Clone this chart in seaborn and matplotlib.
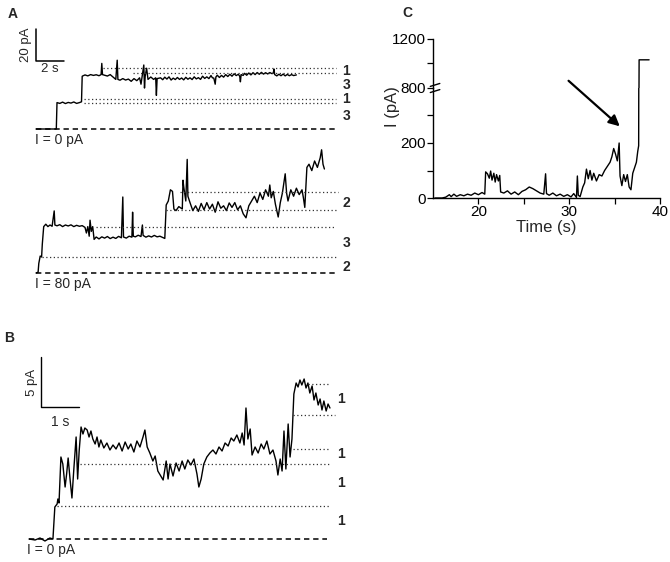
import matplotlib
matplotlib.use('Agg')
import matplotlib.pyplot as plt
import seaborn as sns
import pandas as pd

# ---- data: trace A, I = 0 pA (time s, current pA)
a1_t = [0, 1.45, 1.5, 1.7, 1.9, 2.1, 2.3, 2.5, 2.7, 2.9, 3.1, 3.25, 3.3, 3.5, 3.7, 3.9, 4.1, 4.3,
        4.5, 4.65, 4.7, 4.75, 4.9, 5.1, 5.3, 5.5, 5.7, 5.8, 5.85, 6.0, 6.2, 6.4, 6.6, 6.8, 7.0,
        7.2, 7.4, 7.5, 7.6, 7.7, 7.75, 7.8, 7.9, 8.0, 8.2, 8.4, 8.55, 8.6, 8.65,
        8.9, 9.05, 9.2, 9.35, 9.5, 9.65, 9.8, 9.95, 10.1, 10.25, 10.4, 10.55, 10.7, 10.85, 11.0,
        11.15, 11.3, 11.45, 11.6, 11.75, 11.9, 12.05, 12.2, 12.35, 12.5, 12.6, 12.7, 12.8, 12.85,
        12.95, 13.1, 13.25, 13.4, 13.55, 13.7, 13.85, 14.0, 14.15, 14.3, 14.45, 14.55, 14.6, 14.65,
        14.8, 14.9, 15.05, 15.2, 15.35, 15.5, 15.65, 15.8, 15.95, 16.1, 16.25, 16.4, 16.55, 16.7,
        16.85, 16.95, 17.0, 17.05, 17.2, 17.35, 17.5, 17.65, 17.8, 17.95, 18.1, 18.25, 18.4, 18.6]
a1_i = [0, 0, 16.5, 16, 16.8, 15.9, 16.6, 16.2, 16.9, 16, 16.5, 17, 33, 33.8, 33.2, 34, 33.5, 33.9,
        33.3, 34, 41, 34, 33.6, 33.1, 34, 32.5, 31, 43, 31, 30.5, 31.5, 30.6, 31.2, 29.8, 31.5,
        30.2, 32, 28, 34, 40, 25.6, 33, 38, 31, 32.5, 31, 32, 21, 31.5,
        32, 30.8, 32.4, 31.2, 32.6, 30.6, 31.8, 30.9, 32.2, 31, 31.9, 30.7, 32.3, 31.1, 32,
        30.9, 32.6, 31.3, 32.1, 31, 33, 31.6, 32.6, 31.5, 33.4, 32, 31.8, 28, 32.5,
        33.6, 32.2, 33.5, 32.4, 34, 32.8, 34.2, 33, 34.5, 33.4, 34.2, 33, 29.5, 34,
        33.5, 34.8, 33.6, 35, 33.8, 35.2, 34, 35.3, 34.2, 35.4, 34.3, 35.2, 34.4, 35.3,
        34.6, 35, 37.5, 34, 33.2, 34.2, 33.3, 34.3, 33.2, 34.1, 33.3, 34, 33.4, 33.8]

# trace A, I = 80 pA (relative to its own baseline)
a2_t = [0, 0.15, 0.2, 0.3, 0.4, 0.45, 0.55, 0.7, 0.85, 1.0, 1.15, 1.3, 1.35, 1.5, 1.7, 1.9, 2.1,
        2.3, 2.5, 2.7, 2.9, 3.1, 3.3, 3.5, 3.6, 3.7, 3.8, 3.86, 3.95, 4.05, 4.15, 4.3, 4.5, 4.7,
        4.9, 5.1, 5.3, 5.5, 5.7, 5.9, 6.1, 6.2, 6.25, 6.45, 6.65, 6.85, 6.9, 6.95, 7.1, 7.3, 7.5,
        7.6, 7.65, 7.85, 8.05, 8.25, 8.45, 8.65, 8.85, 9.05, 9.2, 9.3, 9.45, 9.6, 9.75, 9.85, 10.0,
        10.2, 10.45, 10.5, 10.55, 10.7, 10.8, 10.85, 11.0, 11.2, 11.4, 11.6, 11.8, 12.0, 12.2,
        12.4, 12.6, 12.8, 13.0, 13.2, 13.4, 13.6, 13.8, 14.0, 14.2, 14.4, 14.6, 14.8, 15.0, 15.2,
        15.4, 15.6, 15.8, 16.0, 16.2, 16.4, 16.6, 16.7, 16.8, 16.95, 17.1, 17.3, 17.45, 17.6,
        17.8, 17.9, 18.0, 18.2, 18.4, 18.6, 18.8, 19.0, 19.1, 19.2, 19.35, 19.5, 19.7, 19.9,
        20.1, 20.3, 20.4, 20.5, 20.6]
a2_i = [0, 0.5, 6, 10.6, 10, 18, 29, 30.5, 29, 30, 29.2, 38.8, 30, 29.5, 30.2, 29, 30,
        29.4, 30.1, 29, 29.8, 29.2, 29.6, 28.5, 25, 29, 23, 33, 26, 29, 21, 22.5, 21.3, 22.6,
        21.8, 22.8, 21.5, 22.4, 21.6, 22.9, 22, 47.5, 22.5, 21.8, 23, 22.4, 38, 23, 22.6, 23.6, 22.8,
        30, 23.5, 22.4, 23.2, 22.5, 23.5, 22.6, 23, 22.2, 21.6, 42.5, 45, 52, 51, 40, 39,
        41.5, 40, 58, 54, 45, 71, 48, 44, 39, 42, 38.5, 43.5, 39.5, 44,
        40, 43, 38, 44.5, 40.5, 42, 39, 43.8, 41, 44, 39.5, 42, 37, 34.5, 42,
        45, 48, 44, 50, 46, 52, 48, 55, 47, 51, 43, 35, 44, 50,
        62, 50, 45, 52, 48, 53, 49, 52, 47, 41, 66, 68, 64, 70,
        66, 72, 77, 68, 65]
a2_offset = -90

# trace B, I = 0 pA
b_t = [0, 0.16, 0.29, 0.42, 0.55, 0.63, 0.68, 0.74, 0.76, 0.79, 0.84, 0.89, 0.95, 0.99, 1.03,
       1.08, 1.13, 1.18, 1.24, 1.28, 1.32, 1.37, 1.42, 1.47, 1.53, 1.58, 1.63, 1.68, 1.74, 1.79,
       1.84, 1.89, 1.97, 2.05, 2.13, 2.21, 2.29, 2.37, 2.45, 2.53, 2.61, 2.68, 2.76, 2.84, 2.92,
       3.0, 3.05, 3.11, 3.18, 3.26, 3.32, 3.39, 3.53, 3.61, 3.66, 3.71, 3.79, 3.87, 3.95, 4.03,
       4.1, 4.18, 4.26, 4.34, 4.42, 4.47, 4.53, 4.6, 4.68, 4.76, 4.84, 4.92, 5.0, 5.08, 5.16,
       5.24, 5.32, 5.39, 5.47, 5.55, 5.61, 5.66, 5.71, 5.76, 5.82, 5.87, 5.95, 6.03, 6.11, 6.18,
       6.26, 6.34, 6.42, 6.5, 6.55, 6.61, 6.66, 6.71, 6.76, 6.82, 6.87, 6.92, 6.97, 7.03, 7.08,
       7.13, 7.18, 7.24, 7.29, 7.34, 7.39, 7.45, 7.5, 7.55, 7.61, 7.66, 7.71, 7.76, 7.82, 7.87,
       7.92]
b_i = [0, -0.1, 0.1, -0.2, 0.1, 0, 3.2, 3.5, 4, 3.6, 8.2, 7.5, 5.2, 6.5, 8.1,
       6, 4.1, 7, 10.2, 6, 8.8, 11.2, 10.5, 11.1, 10.9, 10.2, 10.8, 10.0, 9.5, 10.2,
       9.2, 9.9, 9.1, 9.6, 8.9, 9.4, 9.0, 9.6, 8.8, 9.7, 9.0, 9.5, 8.7, 9.8, 9.2,
       10.2, 10.9, 9.2, 8.6, 7.8, 8.3, 6.8, 5.9, 7.8, 6.0, 7.5, 6.3, 7.6, 6.8, 7.8,
       7.0, 7.9, 7.4, 8.0, 6.5, 5.2, 6.0, 7.5, 8.2, 8.6, 8.9, 8.5, 9.2, 8.8, 9.6,
       9.3, 10.1, 9.8, 10.4, 9.6, 10.6, 9.4, 13.1, 10.0, 11.0, 8.4, 9.2, 8.6, 9.5, 9.0,
       9.8, 8.5, 8.9, 7.8, 6.4, 8.0, 6.8, 10.8, 7.0, 11.5, 8.2, 10.0, 14.5, 15.6, 15.2,
       15.9, 15.4, 16.0, 15.1, 15.6, 14.6, 15.3, 13.9, 14.6, 13.4, 14.0, 12.9, 13.8, 12.8, 13.5,
       13.1]

# trace C
c_t = [15.2, 16.0, 16.4, 16.8, 17.0, 17.3, 17.6, 18.0, 18.4, 18.8, 19.2, 19.6, 20.0, 20.4, 20.7,
       20.8, 21.0, 21.2, 21.35, 21.5, 21.7, 21.85, 22.0, 22.2, 22.35, 22.45, 22.8, 23.2, 23.6,
       24.0, 24.4, 24.8, 25.2, 25.6, 26.0, 26.4, 26.8, 27.2, 27.4, 27.5, 27.8, 28.2, 28.6, 29.0,
       29.4, 29.8, 30.2, 30.5, 30.8, 30.9, 31.0, 31.2, 31.5, 31.7, 31.9, 32.1, 32.3, 32.5, 32.7,
       33.0, 33.3, 33.6, 33.9, 34.2, 34.5, 34.7, 34.9, 35.1, 35.3, 35.5, 35.6, 35.8, 36.0, 36.2,
       36.4, 36.6, 36.8, 37.0, 37.2, 37.4, 37.55, 37.65, 37.7, 38.8]
c_i = [0, 0, 3, 12, 5, 14, 6, 12, 8, 14, 10, 18, 12, 20, 14,
       95, 88, 72, 98, 65, 90, 58, 85, 62, 82, 22, 18, 26, 14,
       22, 12, 24, 30, 40, 34, 26, 18, 14, 88, 16, 10, 18, 8, 14,
       6, 12, 4, 16, 2, 80, 10, 5, 40, 55, 105, 70, 100, 65, 90,
       62, 85, 80, 100, 115, 130, 150, 180, 160, 135, 200, 80, 45, 85, 60,
       85, 40, 30, 90, 110, 130, 170, 190, 1030, 1030]

# dotted level lines: (level pA, t start, t end)
a1_levels = [(16.3, 3.4, 21.4), (18.8, 3.4, 21.4), (35.0, 6.9, 21.4), (38.0, 4.8, 21.4)]
a1_labels = [('1', 36.5), ('3', 27.5), ('1', 18.8), ('3', 8.1)]
a2_levels = [(10.0, 0.4, 21.4), (28.7, 4.3, 21.4), (39.4, 9.3, 21.6), (50.6, 10.3, 21.6)]
a2_labels = [('2', 44.0), ('3', 18.8), ('2', 3.8)]
b_levels = [(3.3, 0.74, 7.92), (7.5, 1.34, 7.92), (9.0, 6.95, 7.92), (12.4, 6.95, 8.05), (15.5, 7.34, 7.92)]
b_labels = [('1', 1.8), ('1', 5.6), ('1', 8.5), ('1', 14.0)]

W, H = 670, 562
sns.set_theme(style='white')
plt.rcParams['font.family'] = ['Liberation Sans', 'DejaVu Sans']
fig = plt.figure(figsize=(W / 100, H / 100), dpi=100)


def px_axes(left, top, right, bottom):
    return fig.add_axes([left / W, 1 - bottom / H, (right - left) / W, (bottom - top) / H])


def trace(ax, t, i, lw=1.0):
    df = pd.DataFrame({'t': t, 'i': i})
    sns.lineplot(data=df, x='t', y='i', ax=ax, color='black', lw=lw,
                 estimator=None, sort=False, legend=False)


def levels(ax, lv, off=0):
    for y, t0, t1 in lv:
        ax.plot([t0, t1], [y + off, y + off], color='#333333', lw=0.9, ls=(0, (1, 2)))


# ---------------- panel A ----------------
axA = px_axes(0, 20, 360, 300)
axA.set_xlim(-36 / 14, 324 / 14)
axA.set_ylim(-171 / 1.6, 109 / 1.6)
axA.axis('off')
trace(axA, a1_t, a1_i)
trace(axA, a2_t, [v + a2_offset for v in a2_i])
axA.plot([0, 21.4], [0, 0], color='black', lw=1.1, ls=(0, (3.5, 2.5)))
axA.plot([0, 21.4], [a2_offset, a2_offset], color='black', lw=1.1, ls=(0, (3.5, 2.5)))
levels(axA, a1_levels)
levels(axA, a2_levels, a2_offset)
for s, y in a1_labels:
    axA.text(21.9, y, s, fontsize=10, fontweight='bold', va='center', ha='left')
for s, y in a2_labels:
    axA.text(21.9, y + a2_offset, s, fontsize=10, fontweight='bold', va='center', ha='left')
# scale bar 20 pA / 2 s
axA.plot([0, 0, 2], [62.5, 42.5, 42.5], color='black', lw=1.1)
axA.text(-0.25, 52.5, '20 pA', rotation=90, fontsize=9.5, ha='right', va='center')
axA.text(1.0, 41.5, '2 s', fontsize=9.5, ha='center', va='top')
axA.text(-0.05, -2.5, 'I = 0 pA', fontsize=10, ha='left', va='top')
axA.text(-0.05, a2_offset - 2.5, 'I = 80 pA', fontsize=10, ha='left', va='top')

# ---------------- panel B ----------------
axB = px_axes(0, 340, 360, 562)
axB.set_xlim(-29 / 38, 331 / 38)
axB.set_ylim(-23 / 10, 199 / 10)
axB.axis('off')
trace(axB, b_t, b_i)
axB.plot([0, 7.85], [0, 0], color='black', lw=1.1, ls=(0, (3.5, 2.5)))
levels(axB, b_levels)
for s, y in b_labels:
    axB.text(8.1, y, s, fontsize=10, fontweight='bold', va='center', ha='left')
axB.plot([12 / 38, 12 / 38, 50 / 38], [18.2, 13.2, 13.2], color='black', lw=1.0)
axB.text(9 / 38, 15.7, '5 pA', rotation=90, fontsize=9.5, ha='right', va='center')
axB.text(31 / 38, 12.4, '1 s', fontsize=10, ha='center', va='top')
axB.text(-0.05, -0.4, 'I = 0 pA', fontsize=10, ha='left', va='top')

# ---------------- panel C ----------------
axC = px_axes(433, 88, 660, 198)
axU = px_axes(433, 39, 660, 88)
for ax in (axC, axU):
    trace(ax, c_t, c_i, lw=1.0)
    ax.set_xlim(15, 40)
    ax.set_xlabel('')
    ax.set_ylabel('')
    ax.tick_params(axis='both', which='both', direction='out', left=True, bottom=True,
                   labelsize=11, length=4, width=0.9, pad=1, colors='black')
    ax.patch.set_alpha(0)
axC.set_ylim(0, 400)
axU.set_ylim(800, 1200)
axC.set_yticks([0, 200])
axC.set_yticks([100, 300], minor=True)
axC.set_xticks([20, 30, 40])
axC.set_xticks([25, 35], minor=True)
axU.set_yticks([800, 1200])
axU.set_yticks([1000], minor=True)
axU.set_xticks([])
axU.tick_params(axis='y', which='minor', length=4)
axC.tick_params(axis='both', which='minor', length=4)
for ax in (axC, axU):
    for side in ('top', 'right'):
        ax.spines[side].set_visible(False)
    for side in ('left', 'bottom'):
        ax.spines[side].set_color('black')
        ax.spines[side].set_linewidth(1.0)
axU.spines['bottom'].set_visible(False)
axC.set_xlabel('Time (s)', fontsize=12, labelpad=1)
fig.text(392 / W, 1 - 107 / H, 'I (pA)', rotation=90, fontsize=12, ha='center', va='center')
# axis break marks
for dy in (-3, 3):
    axU.plot([-0.012, 0.03], [dy / 48 - 0.03, dy / 48 + 0.03], transform=axU.transAxes,
             color='black', lw=1.0, clip_on=False)
axC.annotate('', xy=(35.8, 254), xytext=(29.7, 433),
             arrowprops=dict(arrowstyle='-|>', color='black', lw=1.6, mutation_scale=16),
             annotation_clip=False)

# panel letters
fig.text(8 / W, 1 - 14 / H, 'A', fontsize=10, fontweight='bold', ha='left', va='center')
fig.text(4 / W, 1 - 338 / H, 'B', fontsize=10, fontweight='bold', ha='left', va='center')
fig.text(402 / W, 1 - 13 / H, 'C', fontsize=10, fontweight='bold', ha='left', va='center')

fig.savefig('out.png', dpi=100, facecolor='white')
